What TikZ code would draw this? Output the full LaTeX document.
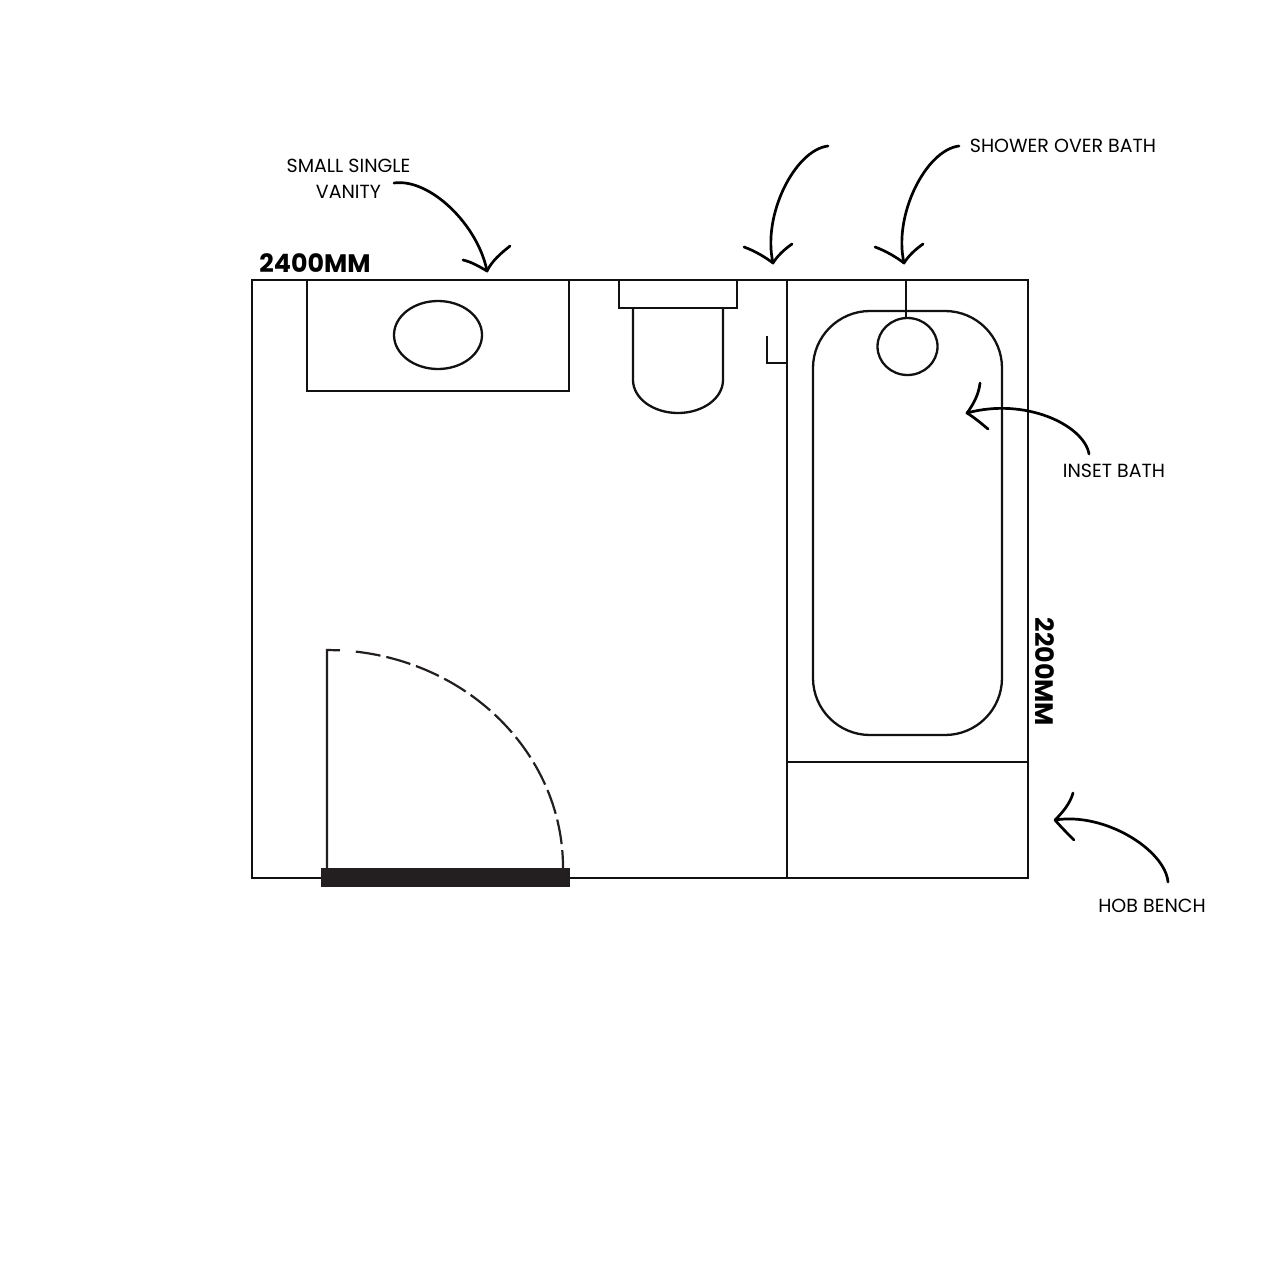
\documentclass[tikz,border=0pt]{standalone}
\usepackage{fontspec}
\setmainfont{Poppins}
\definecolor{ink}{HTML}{111111}
\definecolor{doorblk}{HTML}{231F20}
\tikzset{
  wall/.style={draw=ink,line width=2.5pt,line join=miter},
  fine/.style={draw=ink,line width=2.3pt},
  sweep/.style={draw=doorblk,line width=2.2pt,dash pattern=on 25pt off 6pt},
  pointer/.style={draw=black,line width=2.7pt,line cap=round,line join=round},
  note/.style={font=\fontsize{19}{26}\selectfont,text=black,inner sep=0pt,align=center},
  size/.style={font=\fontsize{25.3}{28}\bfseries\selectfont,text=black,inner sep=0pt}
}
\begin{document}
\begin{tikzpicture}[x=1pt,y=-1pt]
\useasboundingbox[fill=white] (0,0) rectangle (1280,1280);
% room
\draw[wall] (252,280) rectangle (1028,878);
\draw[wall] (787,280) -- (787,878);
\draw[wall] (787,762) -- (1028,762);
% vanity
\draw[wall] (307,280) rectangle (569,391);
\draw[fine] (438,335) ellipse [x radius=44,y radius=34];
% toilet
\draw[fine] (619,280) rectangle (737,308);
\draw[fine] (633,308) -- (633,380) arc [start angle=180,end angle=0,x radius=45,y radius=33] -- (723,308);
% tap
\draw[fine] (767,336) -- (767,363) -- (787,363);
% bath
\draw[fine,rounded corners=57pt] (813,311) rectangle (1002,735);
\draw[fine] (906,280) -- (906,318);
\draw[fine] (907.5,346.5) ellipse [x radius=30,y radius=28.5];
% door
\draw[draw=doorblk,line width=2.2pt] (327,868) -- (327,650) -- (340,650.3);
\draw[sweep] (355.8,651.6) arc [start angle=-83,end angle=0,x radius=236,y radius=218];
\fill[doorblk] (321,867.5) rectangle (570,887);
% pointers
\draw[pointer] (394,183) .. controls (430,178) and (478,225) .. (487,271);
\draw[pointer] (463,260) .. controls (472,262) and (480,267) .. (487,271) .. controls (492,261) and (500,254) .. (510,246);
\draw[pointer] (828,146) .. controls (795,150) and (762,215) .. (773,263);
\draw[pointer] (744,247) .. controls (755,251) and (765,257) .. (773,263) .. controls (778,255) and (785,249) .. (792,244);
\draw[pointer] (959,146) .. controls (926,150) and (893,215) .. (904,263);
\draw[pointer] (875,247) .. controls (886,251) and (896,257) .. (904,263) .. controls (909,255) and (916,249) .. (923,244);
\draw[pointer] (1089,454) .. controls (1084,425) and (1025,397) .. (967,413);
\draw[pointer] (980,383) .. controls (979,394) and (973,405) .. (967,413) .. controls (975,418) and (982,424) .. (988,429);
\draw[pointer] (1168,882) .. controls (1165,850) and (1105,812) .. (1055,820);
\draw[pointer] (1073,793) .. controls (1070,804) and (1062,813) .. (1055,820) .. controls (1061,827) and (1068,834) .. (1074,840);
% labels
\node[note] (vanity) at (348.5,178.5) {SMALL SINGLE\\VANITY};
\node[note] (shower) at (1063,145.5) {SHOWER OVER BATH};
\node[note] (inset) at (1114,470.5) {INSET BATH};
\node[note] (hob) at (1152,905.5) {HOB BENCH};
\node[size] (width) at (315,263.2) {2400MM};
\node[size,rotate=-90] (height) at (1045,672) {2200MM};
\end{tikzpicture}
\end{document}
